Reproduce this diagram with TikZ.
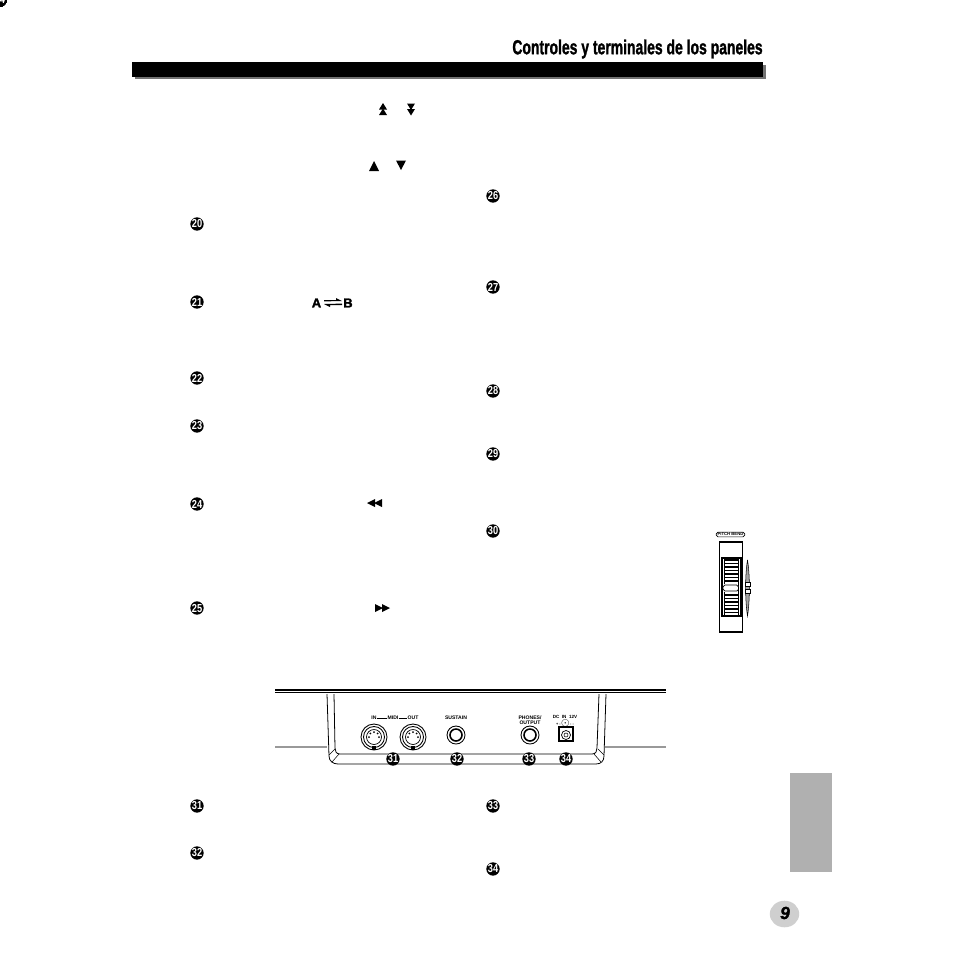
\documentclass[tikz,border=0pt]{standalone}
\usepackage{fontspec}
\setmainfont{Liberation Sans}
\newfontfamily\heavyfont[UprightFont=* Bold, ItalicFont=* Bold Italic, FakeBold=1.6]{Liberation Sans}
\usetikzlibrary{arrows.meta}
\begin{document}
\begin{tikzpicture}[x=.02cm, y=-.02cm,
    marker/.style = {circle, fill=black, text=white, inner sep=0pt, minimum size=7.6pt, font=\bfseries\fontsize{6.6}{6.6}\selectfont},
    panellabel/.style = {inner sep=0pt, align=center, font=\bfseries\fontsize{2.9}{3.2}\selectfont},
    tri/.style = {fill=black, draw=none}]

            \useasboundingbox (0,0) rectangle (954,954);
            \fill [white] (0,0) rectangle (954,954);

            \node (title) [anchor=east, inner sep=0pt] at (763,49) {\scalebox{.69}[1]{\heavyfont\fontsize{11.5}{11.5}\selectfont Controles y terminales de los paneles}};
            \fill [black!55] (135,65) rectangle (766,79);
            \fill (132,62) rectangle (763,77);

            \foreach \x/\y/\n in {197/224/20, 197/302/21, 197/378/22, 197/426/23, 197/504/24, 197/608/25,
                                  493/196/26, 493/287/27, 493/391/28, 493/454/29, 493/531/30,
                                  197/806/31, 197/853/32, 493/806/33, 493/869/34} {
              \node (n\n) [marker] {\scalebox{.8}[1]{\n}};
              \node (n\n) [marker] at (\x,\y) {\scalebox{.8}[1]{\n}};
            }

            \foreach \x in {383} {
              \fill [tri] (\x-4,109.5) -- (\x+4,109.5) -- (\x,103) -- cycle;
              \fill [tri] (\x-4,115) -- (\x+4,115) -- (\x,108.5) -- cycle;
            }
            \foreach \x in {411} {
              \fill [tri] (\x-4,103.5) -- (\x+4,103.5) -- (\x,110) -- cycle;
              \fill [tri] (\x-4,109) -- (\x+4,109) -- (\x,115.5) -- cycle;
            }
            \fill [tri] (369,171) -- (379,171) -- (374,161) -- cycle;
            \fill [tri] (396,160.5) -- (406,160.5) -- (401,170) -- cycle;

            \node (a) [inner sep=0pt, font=\heavyfont\fontsize{7.4}{7.4}\selectfont] at (316.5,303) {A};
            \node (b) [inner sep=0pt, font=\heavyfont\fontsize{7.4}{7.4}\selectfont] at (348,303) {B};
            \fill [tri] (324,300) -- (336,300) -- (336,298) -- (342,301) -- (324,301.4) -- cycle;
            \fill [tri] (342,305) -- (330,305) -- (330,307) -- (324,304) -- (342,303.6) -- cycle;

            \foreach \x in {367,374} {
              \fill [tri] (\x+8,499) -- (\x+8,507) -- (\x,503) -- cycle;
            }
            \foreach \x in {375,382} {
              \fill [tri] (\x,604) -- (\x,612) -- (\x+8,608) -- cycle;
            }

            \draw [line width=.9pt] (275,690) -- (666,690);
            \draw [line width=.6pt] (275,692.7) -- (666,692.7);
            \draw [black!40, line width=.8pt] (275,747) -- (327,747);
            \draw [black!40, line width=.8pt] (605,747) -- (666,747);
            \draw [line width=.45pt] (327,694) -- (329,756) .. controls (329,761) and (333,764) .. (338,764) -- (596,764) .. controls (601,764) and (604,761) .. (604,756) -- (606,694);
            \draw [line width=.45pt] (334,694) -- (335,748) .. controls (335,751) and (336,754) .. (340,754) -- (592,754) .. controls (596,754) and (597,751) .. (597,748) -- (599,694);
            \draw [line width=.3pt] (329,755) -- (335,749);
            \draw [line width=.3pt] (332,762) -- (339,754);
            \draw [line width=.3pt] (604,755) -- (598,749);
            \draw [line width=.3pt] (601,762) -- (594,754);

            \foreach \x/\n in {393/31, 457/32, 529/33, 566/34} {
              \node (r\n) [marker] at (\x,759) {\scalebox{.8}[1]{\n}};
            }

            \node (in)  [panellabel] at (374,718) {IN};
            \node (midi) [panellabel] at (393,718) {MIDI};
            \node (out) [panellabel] at (413,718) {OUT};
            \draw [line width=.3pt] (in) -- (midi);
            \draw [line width=.3pt] (midi) -- (out);
            \foreach \x in {374,413} {
              \draw [line width=.5pt] (\x,737) circle (13);
              \draw [line width=.5pt] (\x,737) circle (10.5);
              \draw [line width=.4pt] (\x,737) circle (7.5);
              \foreach \a in {0,45,90,135,180} {
                \fill (\x,737) ++(\a:-5) circle (1);
              }
              \fill (\x-2,746) rectangle (\x+2,750);
            }

            \node (sustain) [panellabel] at (456,718) {SUSTAIN};
            \node (phones) [panellabel] at (530,720) {PHONES/\\OUTPUT};
            \foreach \x in {456,530} {
              \draw [line width=.5pt] (\x,735) circle (9);
              \draw [line width=.9pt] (\x,735) circle (6);
            }
            \node (dc) [panellabel, font=\bfseries\fontsize{2.6}{2.6}\selectfont] at (565,716.5) {DC\ \ IN\ \ 12V};
            \node (pol) [panellabel, font=\bfseries\fontsize{2.2}{2.2}\selectfont] at (565,723.5) {+ -$\odot$- -};
            \draw [line width=.9pt] (559,727) rectangle (573,741);
            \draw [line width=.4pt] (566,735) circle (4.5);
            \draw [line width=.3pt] (566,735) circle (2);

            \node (bend) [draw, rounded corners=1pt, line width=.4pt, inner xsep=.8pt, inner ysep=.5pt, font=\bfseries\fontsize{2.4}{2.4}\selectfont] at (730.5,534.5) {PITCH BEND};
            \draw [line width=.7pt] (719.5,542) rectangle (742.5,632);
            \draw [line width=.6pt] (722,558) rectangle (741,616);
            \draw [line width=.4pt] (724,558) -- (724,616);
            \draw [line width=.4pt] (738,558) -- (738,616);
            \foreach \y in {560,563.5,...,614} {
              \draw [line width=.7pt] (724,\y) -- (738,\y);
            }
            \fill [white] (724,584) rectangle (738,592);
            \draw [line width=.4pt, rounded corners=1pt, fill=white] (723,585) rectangle (738.5,591);
            \draw [line width=.3pt, fill=black!35] (747.5,560) .. controls (745,575) and (745,600) .. (747.5,616) .. controls (750,600) and (750,575) .. (747.5,560);
            \draw [line width=.3pt, fill=white] (745.5,582) rectangle (750.5,586);
            \draw [line width=.3pt, fill=white] (745.5,589) rectangle (750.5,593);

            \fill [black!31] (790,773) rectangle (832,872);
            \fill [black!19] (784.5,914) ellipse (14.7 and 13.3);
            \node (page) [inner sep=0pt, font=\heavyfont\itshape\fontsize{10}{10}\selectfont] at (785,913) {9};
            \end{tikzpicture}
\end{document}
